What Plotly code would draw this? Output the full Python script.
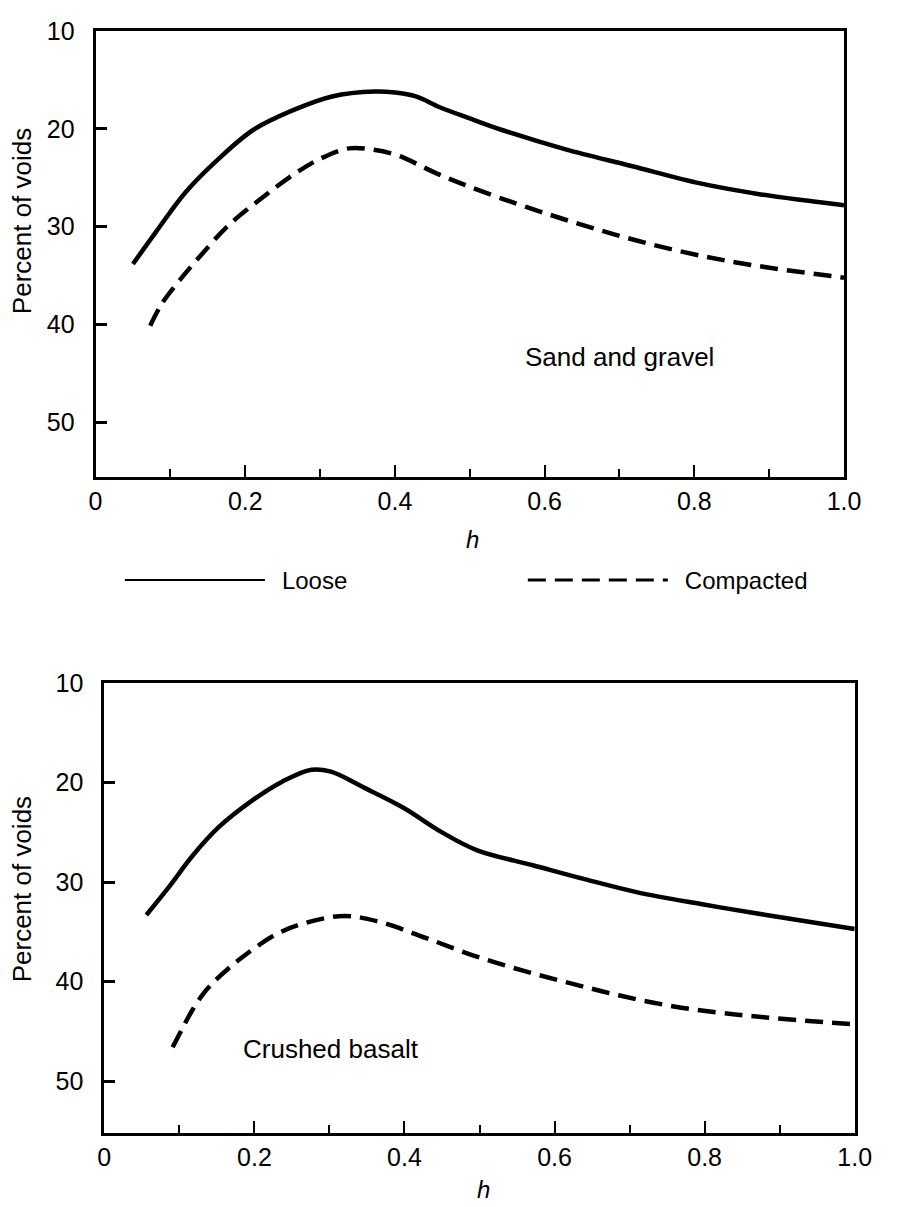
import plotly.graph_objects as go

# Sand and gravel
sg_h_loose = [0.05, 0.081, 0.12, 0.164, 0.211, 0.264, 0.316, 0.373, 0.40, 0.428, 0.46,
              0.50, 0.542, 0.628, 0.716, 0.803, 0.889, 1.0]
sg_loose = [33.8, 30.5, 26.5, 23.1, 20.1, 18.1, 16.7, 16.2, 16.3, 16.7, 17.8,
            18.95, 20.1, 22.1, 23.8, 25.5, 26.7, 27.8]
sg_h_comp = [0.073, 0.089, 0.113, 0.142, 0.177, 0.22, 0.264, 0.299, 0.338, 0.368,
             0.403, 0.457, 0.52, 0.608, 0.694, 0.781, 0.868, 1.0]
sg_comp = [40.1, 37.8, 35.4, 32.8, 29.9, 27.2, 24.7, 23.1, 22.0, 22.1,
           22.7, 24.6, 26.5, 28.8, 30.8, 32.5, 33.8, 35.2]

# Crushed basalt
cb_h_loose = [0.056, 0.087, 0.117, 0.152, 0.195, 0.237, 0.276, 0.302, 0.346, 0.398,
              0.45, 0.497, 0.571, 0.64, 0.709, 0.795, 0.882, 1.0]
cb_loose = [33.3, 30.4, 27.4, 24.5, 21.9, 19.9, 18.7, 18.9, 20.5, 22.5,
            25.0, 26.8, 28.3, 29.7, 31.0, 32.2, 33.3, 34.7]
cb_h_comp = [0.091, 0.104, 0.117, 0.13, 0.145, 0.165, 0.19, 0.23, 0.268, 0.32, 0.367,
             0.428, 0.493, 0.558, 0.623, 0.687, 0.752, 0.817, 0.882, 1.0]
cb_comp = [46.6, 44.7, 42.9, 41.4, 40.1, 38.7, 37.2, 35.2, 34.1, 33.4, 34.0,
           35.6, 37.4, 38.9, 40.2, 41.4, 42.4, 43.1, 43.6, 44.3]

x_ticks = [0, 0.2, 0.4, 0.6, 0.8, 1.0]
x_tick_text = ["0", "0.2", "0.4", "0.6", "0.8", "1.0"]
y_ticks = [10, 20, 30, 40, 50]
y_tick_text = ["10", "20", "30", "40", "50"]

FONT = "Liberation Sans, Arial, Helvetica, sans-serif"
INK = "black"
DASH = "18px,9px"

fig = go.Figure()

# data curves
for xs, ys, dash, xa, ya in [
    (sg_h_loose, sg_loose, "solid", "x", "y"),
    (sg_h_comp, sg_comp, DASH, "x", "y"),
    (cb_h_loose, cb_loose, "solid", "x2", "y2"),
    (cb_h_comp, cb_comp, DASH, "x2", "y2"),
]:
    fig.add_trace(go.Scatter(
        x=xs, y=ys, mode="lines", xaxis=xa, yaxis=ya, showlegend=False,
        line=dict(color=INK, width=4.5, dash=dash, shape="spline", smoothing=1.0),
        hoverinfo="skip",
    ))

# legend entries (one legend box each, side by side)
fig.add_trace(go.Scatter(x=[None], y=[None], mode="lines", name="\u2002Loose",
                         legend="legend", line=dict(color=INK, width=2)))
fig.add_trace(go.Scatter(x=[None], y=[None], mode="lines", name="\u2002Compacted",
                         legend="legend2", line=dict(color=INK, width=3, dash=DASH)))

def x_axis(domain, anchor):
    return dict(
        domain=domain, anchor=anchor, range=[0, 1.0],
        tickvals=x_ticks, ticktext=x_tick_text,
        ticks="inside", ticklen=12, tickwidth=2, tickcolor=INK,
        minor=dict(dtick=0.1, tick0=0, ticks="inside", ticklen=8,
                   tickwidth=2, tickcolor=INK),
        showline=True, linewidth=3, linecolor=INK, mirror=True,
        showgrid=False, zeroline=False, ticklabelstandoff=0,
        tickfont=dict(family=FONT, size=25, color=INK),
    )

def y_axis(domain, anchor, lo):
    return dict(
        domain=domain, anchor=anchor, range=[lo, 10],
        tickvals=y_ticks, ticktext=y_tick_text,
        ticks="inside", ticklen=11, tickwidth=2.5, tickcolor=INK,
        showline=True, linewidth=3, linecolor=INK, mirror=True,
        showgrid=False, zeroline=False, ticklabelstandoff=13,
        tickfont=dict(family=FONT, size=25, color=INK),
    )

def legend_box(x):
    return dict(
        orientation="h", x=x, y=1 - 573 / H, xanchor="left", yanchor="middle",
        itemwidth=140, font=dict(family=FONT, size=24, color=INK),
        bgcolor="rgba(0,0,0,0)",
    )

W, H = 898, 1207
fig.update_layout(
    width=W, height=H,
    margin=dict(l=0, r=0, t=0, b=0),
    paper_bgcolor="white", plot_bgcolor="white",
    font=dict(family=FONT, size=22, color=INK),
    xaxis=x_axis([91 / W, 860 / W], "y"),
    yaxis=y_axis([1 - 468 / H, 1 - 17 / H], "x", 55.5),
    xaxis2=x_axis([100 / W, 871 / W], "y2"),
    yaxis2=y_axis([1 - 1132 / H, 1 - 677 / H], "x2", 55.2),
    legend=legend_box(116 / W),
    legend2=legend_box(530 / W),
    showlegend=True,
)

# axis titles and panel labels
annots = [
    dict(text="Percent of voids", x=15 / W, y=1 - 210 / H, textangle=-90, size=26),
    dict(text="Percent of voids", x=15 / W, y=1 - 886 / H, textangle=-90, size=26),
    dict(text="<i>h</i>", x=478 / W, y=1 - 532 / H, size=24),
    dict(text="<i>h</i>", x=490 / W, y=1 - 1189 / H, size=24),
]
for a in annots:
    size = a.pop("size")
    fig.add_annotation(xref="paper", yref="paper", showarrow=False,
                       xanchor="center", yanchor="middle",
                       font=dict(family=FONT, size=size, color=INK), **a)

fig.add_annotation(xref="x", yref="y", x=0.70, y=43.3, text="Sand and gravel",
                   showarrow=False, font=dict(family=FONT, size=26, color=INK))
fig.add_annotation(xref="x2", yref="y2", x=0.302, y=46.8, text="Crushed basalt",
                   showarrow=False, font=dict(family=FONT, size=26, color=INK))

fig.write_html("out.html")
